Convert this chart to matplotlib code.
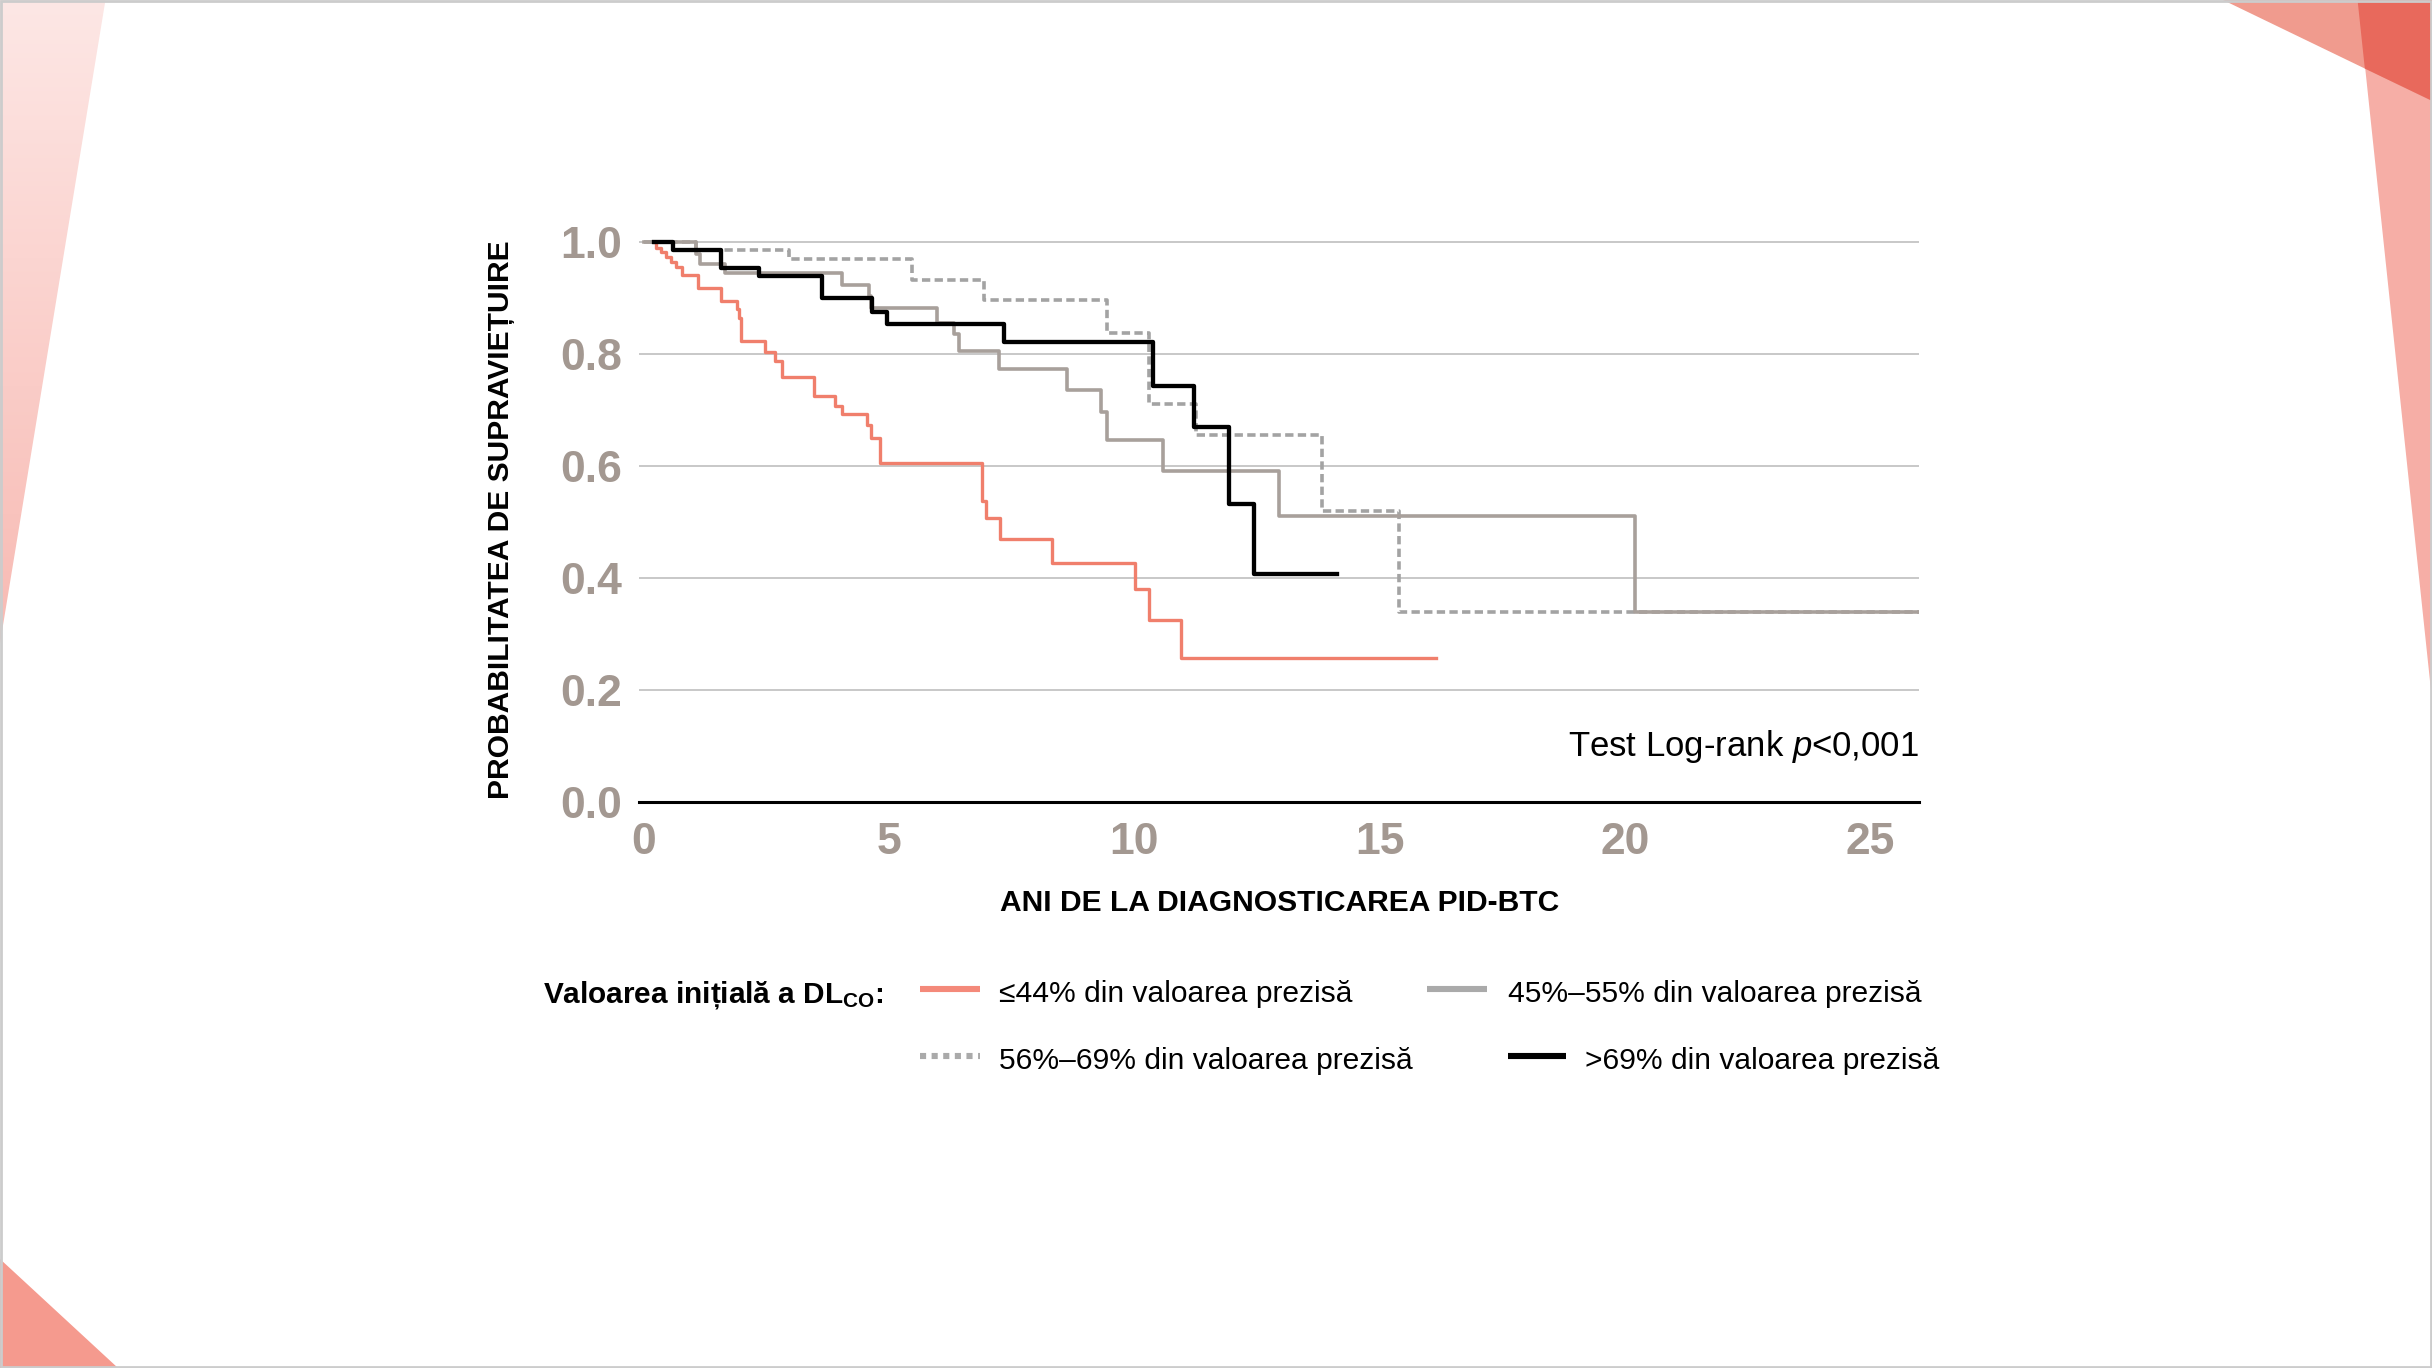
import matplotlib
matplotlib.use("Agg")
import matplotlib.pyplot as plt
import numpy as np
from matplotlib.patches import Polygon, Rectangle
from matplotlib.lines import Line2D

plt.rcParams['font.family'] = ['Liberation Sans', 'DejaVu Sans']
plt.rcParams['mathtext.fontset'] = 'custom'
plt.rcParams['mathtext.rm'] = 'Liberation Sans'
plt.rcParams['mathtext.it'] = 'Liberation Sans:italic'
plt.rcParams['mathtext.bf'] = 'Liberation Sans:bold'

# date (ani, probabilitate de supravietuire)
t_le44 = [0.2, 0.25, 0.35, 0.45, 0.55, 0.65, 0.77, 1.11, 1.56, 1.90, 1.93, 1.97,
          2.47, 2.68, 2.82, 3.46, 3.90, 4.04, 4.55, 4.63, 4.82, 6.90, 6.97,
          7.26, 8.32, 10.02, 10.30, 10.95]
s_le44 = [1.0, 0.990, 0.982, 0.973, 0.964, 0.955, 0.942, 0.918, 0.895, 0.880, 0.865, 0.824,
          0.803, 0.788, 0.759, 0.726, 0.708, 0.693, 0.674, 0.651, 0.606, 0.537, 0.508,
          0.470, 0.427, 0.380, 0.325, 0.258]
end_le44 = 16.15

t_45_55 = [0.0, 1.05, 1.15, 1.66, 4.04, 4.58, 4.62, 5.98, 6.32, 6.42, 7.24,
           8.63, 9.31, 9.45, 10.59, 12.95, 20.2]
s_45_55 = [1.0, 0.978, 0.960, 0.945, 0.924, 0.904, 0.883, 0.856, 0.836, 0.806, 0.773,
           0.735, 0.696, 0.646, 0.592, 0.511, 0.339]
end_45_55 = 26.0

t_56_69 = [0.0, 1.05, 2.95, 5.47, 6.93, 9.45, 10.30, 11.25, 13.83, 15.4]
s_56_69 = [1.0, 0.985, 0.970, 0.933, 0.896, 0.838, 0.711, 0.655, 0.520, 0.339]
end_56_69 = 26.0

t_gt69 = [0.2, 0.60, 1.56, 2.34, 3.63, 4.65, 4.96, 7.34, 10.37, 11.22, 11.93, 12.44]
s_gt69 = [1.0, 0.986, 0.954, 0.939, 0.901, 0.876, 0.853, 0.822, 0.743, 0.670, 0.533, 0.407]
end_gt69 = 14.13

x_ticks = [0, 5, 10, 15, 20, 25]
y_ticks = [0.0, 0.2, 0.4, 0.6, 0.8, 1.0]
y_ticklabels = ['0.0', '0.2', '0.4', '0.6', '0.8', '1.0']

legend_labels = ['≤44% din valoarea prezisă', '45%–55% din valoarea prezisă',
                 '56%–69% din valoarea prezisă', '>69% din valoarea prezisă']

RED = '#f07f6c'
GRAY = '#a8a09b'
DGRAY = '#a3a3a3'
TICK = '#a39891'

fig = plt.figure(figsize=(12.16, 6.84), dpi=200)
fig.patch.set_facecolor('white')

# decor de fundal (colturi roz)
bg = fig.add_axes([0, 0, 1, 1], zorder=-10)
bg.set_xlim(0, 1568)
bg.set_ylim(882, 0)
bg.axis('off')
wedge = Polygon([(0, 0), (68, 0), (0, 415)], closed=True, facecolor='none', edgecolor='none')
bg.add_patch(wedge)
grad = np.linspace(0, 1, 256).reshape(-1, 1)
cmap = matplotlib.colors.LinearSegmentedColormap.from_list('pk', ['#fde7e5', '#f8bab3'])
im = bg.imshow(grad, extent=[0, 68, 415, 0], cmap=cmap, aspect='auto')
im.set_clip_path(wedge)
bg.add_patch(Polygon([(0, 812), (0, 882), (76, 882)], closed=True, facecolor='#f59a8e', edgecolor='none'))
bg.add_patch(Polygon([(1520, 0), (1568, 0), (1568, 451)], closed=True, facecolor='#f6aea6', edgecolor='none'))
bg.add_patch(Polygon([(1433, 0), (1568, 0), (1568, 65)], closed=True, facecolor='#f09b8e', edgecolor='none'))
bg.add_patch(Polygon([(1520, 0), (1568, 0), (1568, 65), (1524.7, 44.2)], closed=True,
                     facecolor='#e8695c', edgecolor='none'))
bg.add_patch(Rectangle((0.5, 0.5), 1567, 881, facecolor='none', edgecolor='#cccccc', lw=1))

# graficul Kaplan-Meier
ax = fig.add_axes([0.2628, 0.4137, 0.5263, 0.4298])
ax.set_facecolor('none')


def km(t, s, end):
    return list(t) + [end], list(s) + [s[-1]]


x, y = km(t_56_69, s_56_69, end_56_69)
ax.step(x, y, where='post', color=DGRAY, lw=1.3, dashes=(2.3, 1.2), zorder=3)
x, y = km(t_45_55, s_45_55, end_45_55)
ax.step(x, y, where='post', color=GRAY, lw=1.3, zorder=4)
x, y = km(t_le44, s_le44, end_le44)
ax.step(x, y, where='post', color=RED, lw=1.2, zorder=5)
x, y = km(t_gt69, s_gt69, end_gt69)
ax.step(x, y, where='post', color='black', lw=1.55, zorder=6)

ax.set_xlim(-0.1, 26.0)
ax.set_ylim(0, 1.05)
ax.set_xticks(x_ticks)
ax.set_xticklabels([str(v) for v in x_ticks])
ax.set_yticks(y_ticks)
ax.set_yticklabels(y_ticklabels)
ax.yaxis.grid(True, color='#c8c8c8', lw=0.7)
ax.set_axisbelow(True)
for side in ['left', 'right', 'top']:
    ax.spines[side].set_visible(False)
ax.spines['bottom'].set_color('black')
ax.spines['bottom'].set_linewidth(1.1)
ax.spines['bottom'].set_zorder(7)
ax.tick_params(axis='x', length=0, pad=7, labelsize=16, labelcolor=TICK)
ax.tick_params(axis='y', length=0, pad=6, labelsize=16, labelcolor=TICK)
for lab in ax.get_xticklabels() + ax.get_yticklabels():
    lab.set_fontweight('bold')

ax.text(26.0, 0.10, r'Test Log-rank $\mathit{p}$<0,001', ha='right', va='center', fontsize=12.5)

fig.text(0.2060, 0.6202, 'PROBABILITATEA DE SUPRAVIEȚUIRE', rotation=90, ha='center', va='center',
         fontsize=10.8, fontweight='bold')
fig.text(0.5262, 0.3401, 'ANI DE LA DIAGNOSTICAREA PID-BTC', ha='center', va='center',
         fontsize=10.8, fontweight='bold')

# legenda
fig.text(0.3635, 0.2675, r'Valoarea inițială a DL$_{\mathbf{CO}}$:', ha='right', va='baseline',
         fontsize=10.7, fontweight='bold')
handles = [
    dict(x=(0.3782, 0.4030), y=0.2767, color='#f4897a', ls='-', tx=0.4107, ty=0.2675),
    dict(x=(0.5867, 0.6115), y=0.2767, color='#aaaaaa', ls='-', tx=0.6199, ty=0.2675),
    dict(x=(0.3782, 0.4030), y=0.2280, color='#aaaaaa', ls=(0, (1.0, 0.9)), tx=0.4107, ty=0.2188),
    dict(x=(0.6199, 0.6441), y=0.2280, color='black', ls='-', tx=0.6518, ty=0.2188),
]
for h, label in zip(handles, legend_labels):
    fig.add_artist(Line2D(h['x'], [h['y'], h['y']], transform=fig.transFigure,
                          color=h['color'], lw=2.2, linestyle=h['ls'], solid_capstyle='butt',
                          dash_capstyle='butt'))
    fig.text(h['tx'], h['ty'], label, ha='left', va='baseline', fontsize=10.8)

fig.savefig('out.png', dpi=200, facecolor='white')
